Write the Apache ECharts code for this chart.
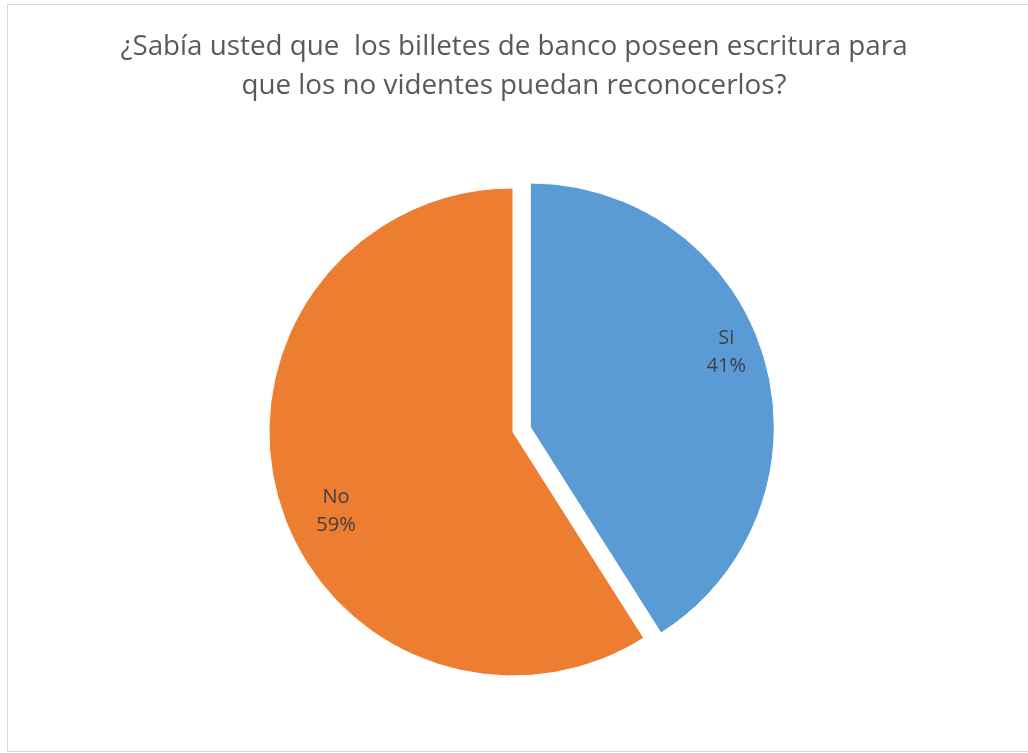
<!DOCTYPE html>
<html>
<head>
<meta charset="utf-8">
<script src="https://cdn.jsdelivr.net/npm/echarts@6/dist/echarts.min.js"></script>
<style>
  html, body { margin: 0; padding: 0; background: #fff; }
  #frame { position: absolute; left: 7px; top: 4px; width: 1030px; height: 748px; border: 1px solid #d9d9d9; box-sizing: border-box; }
  #chart { position: absolute; left: 0; top: 0; width: 1028px; height: 753px; }
</style>
</head>
<body>
<div id="frame"></div>
<div id="chart"></div>
<script>
const titleLines = ['¿Sabía usted que  los billetes de banco poseen escritura para', 'que los no videntes puedan reconocerlos?'];
const categories = ['Si', 'No'];
const values = [41, 59];
const colors = ['#5B9BD5', '#ED7D31'];
const labelOffsets = [[76, -40], [-57, 44]];

const chart = echarts.init(document.getElementById('chart'), null, { renderer: 'canvas' });
chart.setOption({
  animation: false,
  title: {
    text: titleLines.join('\n'),
    left: 'center',
    top: 23,
    textStyle: { fontFamily: 'Open Sans', fontSize: 27.8, fontWeight: 'normal', color: '#595959', lineHeight: 39 }
  },
  series: [{
    type: 'pie',
    center: [513, 432],
    radius: 244,
    startAngle: 90,
    clockwise: true,
    selectedMode: 'single',
    selectedOffset: 18,
    silent: true,
    itemStyle: { borderColor: '#fff', borderWidth: 1 },
    label: {
      show: true,
      position: 'inside',
      formatter: p => p.name + '\n' + Math.round(p.percent) + '%',
      fontFamily: 'Open Sans',
      fontSize: 20,
      lineHeight: 28,
      color: '#404040'
    },
    labelLine: { show: false },
    emphasis: { disabled: true },
    data: categories.map((c, i) => ({
      name: c,
      value: values[i],
      selected: i === 0,
      itemStyle: { color: colors[i] },
      label: { offset: labelOffsets[i] },
      select: { label: { offset: labelOffsets[i] } }
    }))
  }]
});
</script>
</body>
</html>
